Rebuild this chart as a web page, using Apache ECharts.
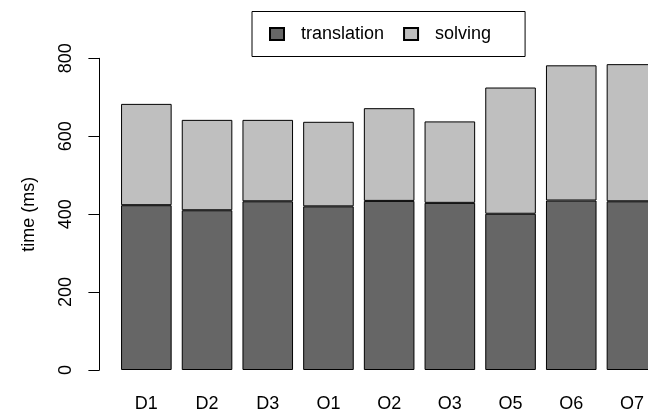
<!DOCTYPE html>
<html>
<head>
<meta charset="utf-8">
<script src="https://cdn.jsdelivr.net/npm/echarts@6/dist/echarts.min.js"></script>
<style>
html,body{margin:0;padding:0;background:#fff;}
#chart{width:648px;height:413px;}
</style>
</head>
<body>
<div id="chart"></div>
<script>
const categories = ["D1","D2","D3","O1","O2","O3","O5","O6","O7"];
const translation = [423, 410, 433, 420, 434, 429, 401, 435, 433];
const solving = [260, 232, 209, 217, 238, 209, 324, 347, 352];
const yTicks = [0, 200, 400, 600, 800];
const seriesNames = ["translation", "solving"];

const FONT = "Liberation Sans, Arial, Helvetica, sans-serif";
const chart = echarts.init(document.getElementById('chart'), null, {renderer: 'canvas'});
chart.setOption({
  animation: false,
  backgroundColor: '#ffffff',
  textStyle: {fontFamily: FONT},
  legend: {
    data: seriesNames,
    left: 252,
    top: 11.5,
    orient: 'horizontal',
    icon: 'rect',
    itemWidth: 14,
    itemHeight: 12,
    itemGap: 19,
    borderColor: '#000',
    borderWidth: 1,
    padding: [13.5, 34, 13.5, 17],
    formatter: function (n) { return '{t|' + n + '}'; },
    textStyle: {
      color: '#000',
      fontSize: 18,
      fontFamily: FONT,
      rich: {t: {fontSize: 18, fontFamily: FONT, color: '#000', padding: [0, 0, 0, 12]}}
    }
  },
  grid: {left: 116, right: -14.3, top: 58.3, bottom: 43, containLabel: false, outerBoundsMode: 'none'},
  xAxis: {
    type: 'category',
    data: categories,
    axisLine: {show: false},
    axisTick: {show: false},
    axisLabel: {color: '#000', fontSize: 18, fontFamily: FONT, margin: 25},
    splitLine: {show: false}
  },
  yAxis: {
    type: 'value',
    min: yTicks[0],
    max: yTicks[yTicks.length - 1],
    interval: 200,
    offset: 16.6,
    name: 'time (ms)',
    nameLocation: 'middle',
    nameGap: 61,
    nameRotate: 90,
    nameTextStyle: {color: '#000', fontSize: 18, fontFamily: FONT},
    axisLine: {show: true, lineStyle: {color: '#000', width: 1}},
    axisTick: {show: true, length: 11, lineStyle: {color: '#000', width: 1}},
    axisLabel: {color: '#000', fontSize: 18, fontFamily: FONT, rotate: 90, margin: 24},
    splitLine: {show: false}
  },
  series: [
    {
      name: seriesNames[0], type: 'bar', stack: 'total', data: translation,
      barCategoryGap: '16.67%',
      itemStyle: {color: '#666666', borderColor: '#000', borderWidth: 1}
    },
    {
      name: seriesNames[1], type: 'bar', stack: 'total', data: solving,
      barCategoryGap: '16.67%',
      itemStyle: {color: '#BFBFBF', borderColor: '#000', borderWidth: 1}
    }
  ]
});
</script>
</body>
</html>
